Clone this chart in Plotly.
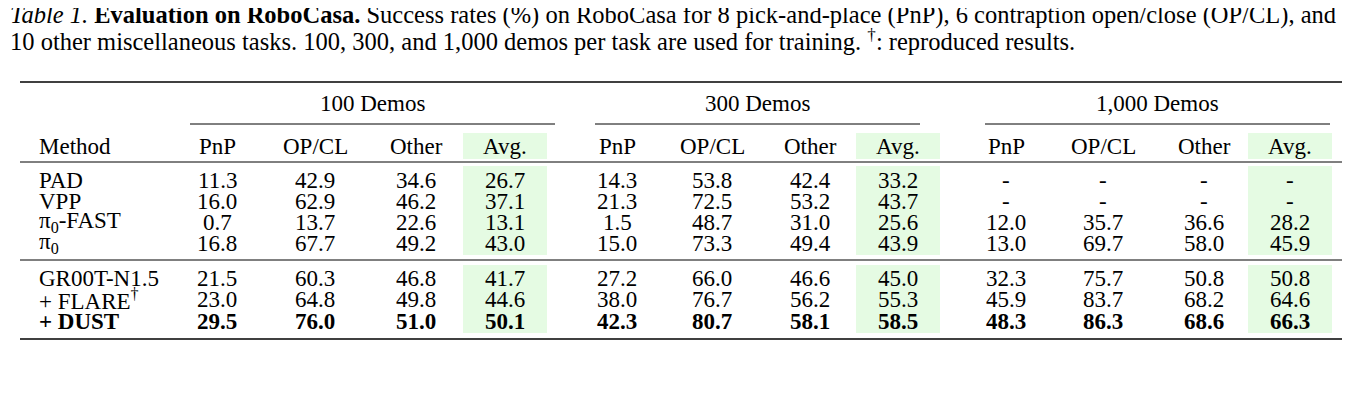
import plotly.graph_objects as go

methods = ["PAD", "VPP", "π<sub>0</sub>-FAST", "π<sub>0</sub>",
           "GR00T-N1.5", "+ FLARE<sup>†</sup>", "<b>+ DUST</b>"]
groups = ["100 Demos", "300 Demos", "1,000 Demos"]
subcols = ["PnP", "OP/CL", "Other", "Avg."]
vals = [
    ["11.3", "42.9", "34.6", "26.7", "14.3", "53.8", "42.4", "33.2", "-", "-", "-", "-"],
    ["16.0", "62.9", "46.2", "37.1", "21.3", "72.5", "53.2", "43.7", "-", "-", "-", "-"],
    ["0.7", "13.7", "22.6", "13.1", "1.5", "48.7", "31.0", "25.6", "12.0", "35.7", "36.6", "28.2"],
    ["16.8", "67.7", "49.2", "43.0", "15.0", "73.3", "49.4", "43.9", "13.0", "69.7", "58.0", "45.9"],
    ["21.5", "60.3", "46.8", "41.7", "27.2", "66.0", "46.6", "45.0", "32.3", "75.7", "50.8", "50.8"],
    ["23.0", "64.8", "49.8", "44.6", "38.0", "76.7", "56.2", "55.3", "45.9", "83.7", "68.2", "64.6"],
    ["29.5", "76.0", "51.0", "50.1", "42.3", "80.7", "58.1", "58.5", "48.3", "86.3", "68.6", "66.3"],
]
bold_rows = [6]

W, H = 1362, 407
FONT = "Liberation Serif"
FS = 23
D = 8  # compensate page offset
colx = [217, 315, 416, 505, 617, 712, 810, 898, 1006, 1103, 1204, 1290]
groupx = [(190, 555), (595, 920), (985, 1330)]
rowy = [180, 201, 222, 243, 278, 299, 321]
avg_idx = [3, 7, 11]

fig = go.Figure()
ann = []
shapes = []

def txt(x, y, t, anchor="center", size=FS):
    ann.append(dict(x=x - D, y=y - D, text=t, showarrow=False, xanchor=anchor, yanchor="middle",
                    xref="x", yref="y", font=dict(family=FONT, size=size, color="black")))

def line(x0, x1, y, w):
    shapes.append(dict(type="line", xref="x", yref="y", x0=x0 - D, x1=x1 - D, y0=y - D, y1=y - D,
                       line=dict(color="black", width=w)))

for i in avg_idx:
    for (y0, y1) in [(133, 159), (166, 255), (265, 333)]:
        shapes.append(dict(type="rect", xref="x", yref="y", x0=colx[i] - 42 - D, x1=colx[i] + 42 - D,
                           y0=y0 - D, y1=y1 - D, fillcolor="#e5fbe3", line=dict(width=0), layer="below"))

txt(8, 15, "<i>Table 1.</i> <b>Evaluation on RoboCasa.</b> Success rates (%) on RoboCasa for 8 pick-and-place (PnP), 6 contraption open/close (OP/CL), and", "left", 24.5)
txt(8, 40, "10 other miscellaneous tasks. 100, 300, and 1,000 demos per task are used for training. <sup>†</sup>: reproduced results.", "left", 24.5)

for y, w in [(82, 1.6), (162, 1), (260, 1), (339, 1.6)]:
    line(20, 1342, y, w)
for (a, b) in groupx:
    line(a, b, 124, 1)

for g, (a, b) in zip(groups, groupx):
    txt((a + b) / 2, 103, g)
txt(37, 146, "Method", "left")
for j, x in enumerate(colx):
    txt(x, 146, subcols[j % 4])

for r, (m, row) in enumerate(zip(methods, vals)):
    txt(37, rowy[r], m, "left")
    for j, v in enumerate(row):
        txt(colx[j], rowy[r], f"<b>{v}</b>" if r in bold_rows else v)

fig.update_layout(
    width=W, height=H, margin=dict(l=0, r=0, t=0, b=0),
    paper_bgcolor="white", plot_bgcolor="white",
    xaxis=dict(range=[0, W], visible=False, fixedrange=True),
    yaxis=dict(range=[H, 0], visible=False, fixedrange=True),
    annotations=ann, shapes=shapes, showlegend=False,
)
fig.write_html("out.html")
